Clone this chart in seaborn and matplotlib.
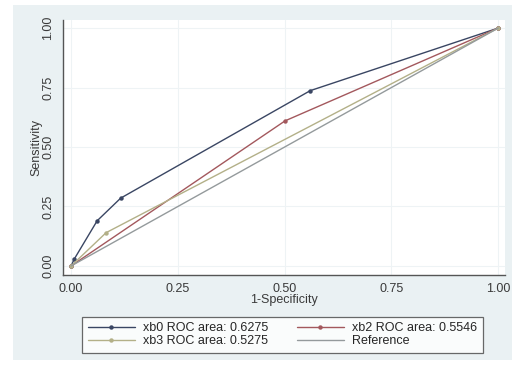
import matplotlib
matplotlib.use("Agg")
import matplotlib.pyplot as plt
from matplotlib.patches import Rectangle
import seaborn as sns
import pandas as pd

# ROC points
xb0_fpr = [0.0, 0.007, 0.061, 0.116, 0.560, 1.0]
xb0_tpr = [0.0, 0.028, 0.190, 0.285, 0.737, 1.0]
xb2_fpr = [0.0, 0.501, 1.0]
xb2_tpr = [0.0, 0.610, 1.0]
xb3_fpr = [0.0, 0.082, 1.0]
xb3_tpr = [0.0, 0.140, 1.0]
ref_fpr = [0.0, 1.0]
ref_tpr = [0.0, 1.0]

labels = ["xb0 ROC area: 0.6275", "xb2 ROC area: 0.5546",
          "xb3 ROC area: 0.5275", "Reference"]
ticks = [0.0, 0.25, 0.5, 0.75, 1.0]
tick_labels = ["0.00", "0.25", "0.50", "0.75", "1.00"]

sns.set_style("white")
plt.rcParams['font.family'] = ['Liberation Sans', 'DejaVu Sans']
fs = 9

fig = plt.figure(figsize=(5.12, 3.71), dpi=100)
fig.patch.set_facecolor("white")
# stata-like light background panel
fig.add_artist(Rectangle((13 / 512, 11 / 371), 499 / 512, 355 / 371,
                         transform=fig.transFigure, facecolor="#eaf1f3",
                         edgecolor="none", zorder=0))

ax = fig.add_axes([63 / 512, 96 / 371, 442 / 512, 255 / 371])
ax.set_facecolor("white")

series = [
    (xb0_fpr, xb0_tpr, "#3a4663", labels[0], "o"),
    (xb2_fpr, xb2_tpr, "#a3585d", labels[1], "o"),
    (xb3_fpr, xb3_tpr, "#b3b088", labels[2], "o"),
    (ref_fpr, ref_tpr, "#949a9c", labels[3], None),
]
for fx, ty, col, lab, mk in series:
    df = pd.DataFrame({"fpr": fx, "tpr": ty})
    sns.lineplot(data=df, x="fpr", y="tpr", ax=ax, color=col, sort=False,
                 linewidth=1.0, marker=mk, markersize=3.2,
                 markeredgewidth=0, label=lab)

ax.set_xlim(-0.019, 1.016)
ax.set_ylim(-0.038, 1.034)
ax.set_xticks(ticks)
ax.set_xticklabels(tick_labels, fontsize=fs, color="#3a3a3a")
ax.set_yticks(ticks)
ax.set_yticklabels(tick_labels, fontsize=fs, color="#3a3a3a",
                   rotation=90, va="center")
ax.tick_params(axis="both", direction="out", length=3.6, width=0.8,
               color="#555555", pad=2.5)
ax.grid(True, color="#eef3f5", linewidth=0.8)
ax.set_axisbelow(True)
for side in ["top", "right"]:
    ax.spines[side].set_visible(False)
for side in ["left", "bottom"]:
    ax.spines[side].set_color("#555555")
    ax.spines[side].set_linewidth(1.0)

ax.set_xlabel("1-Specificity", fontsize=fs, color="#3a3a3a", labelpad=-1)
ax.set_ylabel("Sensitivity", fontsize=fs, color="#3a3a3a", labelpad=0)

h, l = ax.get_legend_handles_labels()
order = [0, 2, 1, 3]
ax.legend([h[i] for i in order], [l[i] for i in order], ncol=2,
          loc="lower left", mode="expand",
          bbox_to_anchor=(82 / 512, 18 / 371, 401 / 512, 38 / 371),
          bbox_transform=fig.transFigure, fontsize=fs, frameon=True,
          fancybox=False, edgecolor="#444444", handlelength=3.8,
          borderaxespad=0, handletextpad=0.65, labelspacing=0.1,
          borderpad=0.45)
ax.get_legend().get_frame().set_linewidth(0.9)

plt.savefig("out.png", dpi=100)
